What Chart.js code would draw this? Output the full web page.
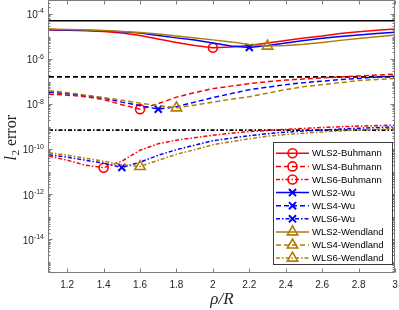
<!DOCTYPE html>
<html>
<head>
<meta charset="utf-8">
<script src="https://cdn.jsdelivr.net/npm/chart.js@4.4.0/dist/chart.umd.min.js"></script>
<style>
  body { margin: 0; background: #fff; }
  canvas { display: block; }
</style>
</head>
<body>
<canvas id="chart" width="399" height="310"></canvas>
<script>
// values
const rho = [1.1, 1.2, 1.3, 1.4, 1.5, 1.6, 1.7, 1.8, 1.9, 2.0, 2.1, 2.2, 2.3, 2.4, 2.5, 2.6, 2.7, 2.8, 2.9, 3.0];

const wls2Buhmann = [1.95e-5, 1.89e-5, 1.79e-5, 1.67e-5, 1.43e-5, 1.11e-5, 7.74e-6, 5.41e-6, 3.98e-6, 3.18e-6,
                     3.41e-6, 3.98e-6, 5.14e-6, 6.64e-6, 8.58e-6, 1.05e-5, 1.36e-5, 1.62e-5, 1.89e-5, 2.15e-5];
const wls4Buhmann = [2.78e-8, 2.51e-8, 2.15e-8, 1.59e-8, 9.5e-9, 6.0e-9, 1.05e-8, 2.05e-8, 3.24e-8, 4.89e-8,
                     6.31e-8, 8.15e-8, 1.0e-7, 1.17e-7, 1.32e-7, 1.46e-7, 1.62e-7, 1.79e-7, 1.95e-7, 2.15e-7];
const wls6Buhmann = [4.89e-11, 3.24e-11, 1.95e-11, 1.51e-11, 2.93e-11, 9.03e-11, 1.75e-10, 2.51e-10, 3.24e-10, 4.19e-10,
                     5.14e-10, 6.0e-10, 6.78e-10, 7.59e-10, 8.4e-10, 9.2e-10, 1.0e-9, 1.06e-9, 1.12e-9, 1.17e-9];

const wls2Wu = [2.05e-5, 1.97e-5, 1.89e-5, 1.79e-5, 1.65e-5, 1.43e-5, 1.11e-5, 8.75e-6, 6.99e-6, 5.14e-6,
                3.78e-6, 3.31e-6, 3.98e-6, 5.14e-6, 6.64e-6, 8.32e-6, 1.0e-5, 1.17e-5, 1.36e-5, 1.54e-5];
const wls4Wu = [3.41e-8, 2.93e-8, 2.39e-8, 1.85e-8, 1.23e-8, 8.58e-9, 6.0e-9, 7.74e-9, 1.23e-8, 1.95e-8,
                2.93e-8, 4.41e-8, 5.7e-8, 7.36e-8, 9.03e-8, 1.05e-7, 1.23e-7, 1.39e-7, 1.59e-7, 1.76e-7];
const wls6Wu = [5.7e-11, 4.41e-11, 3.24e-11, 2.39e-11, 1.54e-11, 2.64e-11, 5.41e-11, 9.5e-11, 1.51e-10, 2.39e-10,
                3.08e-10, 3.98e-10, 4.89e-10, 5.7e-10, 6.44e-10, 7.13e-10, 7.82e-10, 8.49e-10, 9.12e-10, 9.8e-10];

const wls2Wendland = [2.15e-5, 2.07e-5, 1.97e-5, 1.85e-5, 1.70e-5, 1.51e-5, 1.29e-5, 1.05e-5, 8.58e-6, 7.13e-6,
                      5.81e-6, 4.41e-6, 3.78e-6, 3.98e-6, 4.55e-6, 5.52e-6, 6.78e-6, 8.15e-6, 9.7e-6, 1.17e-5];
const wls4Wendland = [3.98e-8, 3.24e-8, 2.51e-8, 1.95e-8, 1.51e-8, 1.11e-8, 8.58e-9, 6.85e-9, 9.03e-9, 1.23e-8,
                      1.67e-8, 2.15e-8, 3.08e-8, 4.41e-8, 6.0e-8, 7.36e-8, 9.03e-8, 1.11e-7, 1.25e-7, 1.39e-7];
const wls6Wendland = [6.98e-11, 5.41e-11, 3.98e-11, 2.93e-11, 2.05e-11, 1.70e-11, 3.24e-11, 6.0e-11, 9.5e-11, 1.59e-10,
                      2.15e-10, 2.93e-10, 3.78e-10, 4.5e-10, 5.14e-10, 5.81e-10, 6.5e-10, 7.13e-10, 7.74e-10, 8.32e-10];

// black reference levels (solid, dashed, dash-dot)
const refLevels = [5.0e-5, 1.63e-7, 7.0e-10];

const seriesNames = ['WLS2-Buhmann', 'WLS4-Buhmann', 'WLS6-Buhmann',
                     'WLS2-Wu', 'WLS4-Wu', 'WLS6-Wu',
                     'WLS2-Wendland', 'WLS4-Wendland', 'WLS6-Wendland'];
const seriesValues = [wls2Buhmann, wls4Buhmann, wls6Buhmann, wls2Wu, wls4Wu, wls6Wu,
                      wls2Wendland, wls4Wendland, wls6Wendland];

const xTicks = [1.2, 1.4, 1.6, 1.8, 2.0, 2.2, 2.4, 2.6, 2.8, 3.0];
const yTickExps = [-14, -12, -10, -8, -6, -4];
const xMin = 1.1, xMax = 3.0;
const yMin = 3.2e-16, yMax = 4.2e-4;

// styles
const RED = '#ff0000', BLUE = '#0000ff', GOLD = 'rgb(175,125,5)';
const familyColor = [RED, BLUE, GOLD];
const familyMarker = ['circle', 'crossRot', 'triangle'];
const markerRadius = [4.5, 5, 6];
const dashes = [[], [5, 3], [4, 2, 1.5, 2]];
const AXIS = '#7a7a7a';
const TEXT = '#262626';

const datasets = [];
seriesValues.forEach(function (vals, i) {
  const fam = Math.floor(i / 3), ord = i % 3;
  const minIdx = vals.indexOf(Math.min(...vals));
  datasets.push({
    label: seriesNames[i],
    data: rho.map((r, k) => ({x: r, y: vals[k]})),
    borderColor: familyColor[fam],
    borderWidth: 1.5,
    borderDash: dashes[ord],
    pointStyle: familyMarker[fam],
    pointRadius: c => c.dataIndex === minIdx ? markerRadius[fam] : 0,
    pointBorderColor: familyColor[fam],
    pointBackgroundColor: 'rgba(0,0,0,0)',
    pointBorderWidth: fam === 1 ? 2 : 1.6,
    tension: 0,
    order: 100 - i
  });
});
refLevels.forEach(function (v, j) {
  datasets.push({
    label: 'ref' + j,
    data: [{x: xMin, y: v}, {x: xMax, y: v}],
    borderColor: '#000',
    borderWidth: 1.6,
    borderDash: dashes[j],
    pointRadius: 0,
    order: 200
  });
});

const axesDeco = {
  id: 'axesDeco',
  afterDatasetsDraw(chart) {
    const ctx = chart.ctx, a = chart.chartArea;
    const x = chart.scales.x, y = chart.scales.y;
    ctx.save();
    ctx.strokeStyle = AXIS;
    ctx.lineWidth = 1;
    ctx.setLineDash([]);
    ctx.beginPath();
    const L = Math.round(a.left) - 0.5, R = Math.round(a.right) - 0.5;
    const T = Math.round(a.top) + 0.5, B = Math.round(a.bottom) - 0.5;
    ctx.rect(L, T, R - L, B - T);
    for (const t of xTicks) {
      const px = Math.round(x.getPixelForValue(t)) + 0.5;
      ctx.moveTo(px, B); ctx.lineTo(px, B - 4);
      ctx.moveTo(px, T); ctx.lineTo(px, T + 4);
    }
    for (let e = -16; e <= -3; e++) {
      for (let m = 1; m <= 9; m++) {
        const v = m * Math.pow(10, e);
        if (v < yMin || v > yMax) continue;
        const py = Math.round(y.getPixelForValue(v)) + 0.5;
        const len = (m === 1 && yTickExps.includes(e)) ? 4 : 2;
        ctx.moveTo(L, py); ctx.lineTo(L + len, py);
        ctx.moveTo(R, py); ctx.lineTo(R - len, py);
      }
    }
    ctx.stroke();

    // tick labels
    ctx.fillStyle = TEXT;
    ctx.font = '10px "Liberation Sans", Arial, sans-serif';
    ctx.textAlign = 'center';
    ctx.textBaseline = 'middle';
    for (const t of xTicks) {
      ctx.fillText(String(Math.round(t * 10) / 10), x.getPixelForValue(t), 285);
    }
    for (const e of yTickExps) {
      const py = y.getPixelForValue(Math.pow(10, e));
      ctx.textAlign = 'right';
      ctx.font = '7px "Liberation Sans", Arial, sans-serif';
      const sup = String(e);
      const sw = ctx.measureText(sup).width;
      ctx.fillText(sup, 44, py - 2.5);
      ctx.font = '10px "Liberation Sans", Arial, sans-serif';
      ctx.fillText('10', 44 - sw, py + 1.5);
    }

    // axis titles
    ctx.textAlign = 'center';
    ctx.font = 'italic 17px "Liberation Serif", "DejaVu Serif", serif';
    ctx.fillText('ρ/R', (a.left + a.right) / 2, 300);

    ctx.translate(15.5, 138);
    ctx.rotate(-Math.PI / 2);
    ctx.textBaseline = 'alphabetic';
    ctx.textAlign = 'left';
    const fItal = 'italic 16px "Liberation Serif", serif';
    const fSub = '11px "Liberation Serif", serif';
    const fUp = '16px "Liberation Serif", serif';
    ctx.font = fItal; const w1 = ctx.measureText('l').width;
    ctx.font = fSub; const w2 = ctx.measureText('2').width;
    ctx.font = fUp; const w3 = ctx.measureText(' error').width;
    let cx = -(w1 + w2 + w3) / 2;
    ctx.font = fItal; ctx.fillText('l', cx, 0); cx += w1 + 0.5;
    ctx.font = fSub; ctx.fillText('2', cx, 3); cx += w2;
    ctx.font = fUp; ctx.fillText(' error', cx, 0);
    ctx.restore();
  }
};

const legendBox = {
  id: 'legendBox',
  afterDraw(chart) {
    const ctx = chart.ctx;
    ctx.save();
    ctx.fillStyle = '#fff';
    ctx.strokeStyle = '#3a3a3a';
    ctx.lineWidth = 1;
    ctx.setLineDash([]);
    ctx.fillRect(273.5, 142.5, 119, 122);
    ctx.strokeRect(273.5, 142.5, 119, 122);
    ctx.font = '9.5px "Liberation Sans", Arial, sans-serif';
    ctx.textBaseline = 'middle';
    ctx.textAlign = 'left';
    seriesNames.forEach(function (name, i) {
      const ds = datasets[i];
      const ry = 153.3 + i * 13.1;
      ctx.strokeStyle = ds.borderColor;
      ctx.lineWidth = 1.5;
      ctx.setLineDash(ds.borderDash);
      ctx.beginPath();
      ctx.moveTo(276, ry); ctx.lineTo(309, ry);
      ctx.stroke();
      ctx.setLineDash([]);
      ctx.lineWidth = ds.pointBorderWidth;
      ctx.fillStyle = 'rgba(0,0,0,0)';
      Chart.helpers.drawPoint(ctx, {
        pointStyle: ds.pointStyle,
        radius: markerRadius[Math.floor(i / 3)],
        rotation: 0,
        borderWidth: ds.pointBorderWidth
      }, 292.5, ry);
      ctx.fillStyle = '#000';
      ctx.fillText(name, 312, ry + 0.5);
    });
    ctx.restore();
  }
};

new Chart(document.getElementById('chart'), {
  type: 'line',
  data: {datasets: datasets},
  options: {
    responsive: false,
    animation: false,
    devicePixelRatio: 1,
    layout: {padding: {left: 49, right: 4, top: 0, bottom: 37}},
    plugins: {legend: {display: false}, tooltip: {enabled: false}},
    scales: {
      x: {type: 'linear', min: xMin, max: xMax, display: false},
      y: {type: 'logarithmic', min: yMin, max: yMax, display: false}
    }
  },
  plugins: [axesDeco, legendBox]
});
</script>
</body>
</html>
